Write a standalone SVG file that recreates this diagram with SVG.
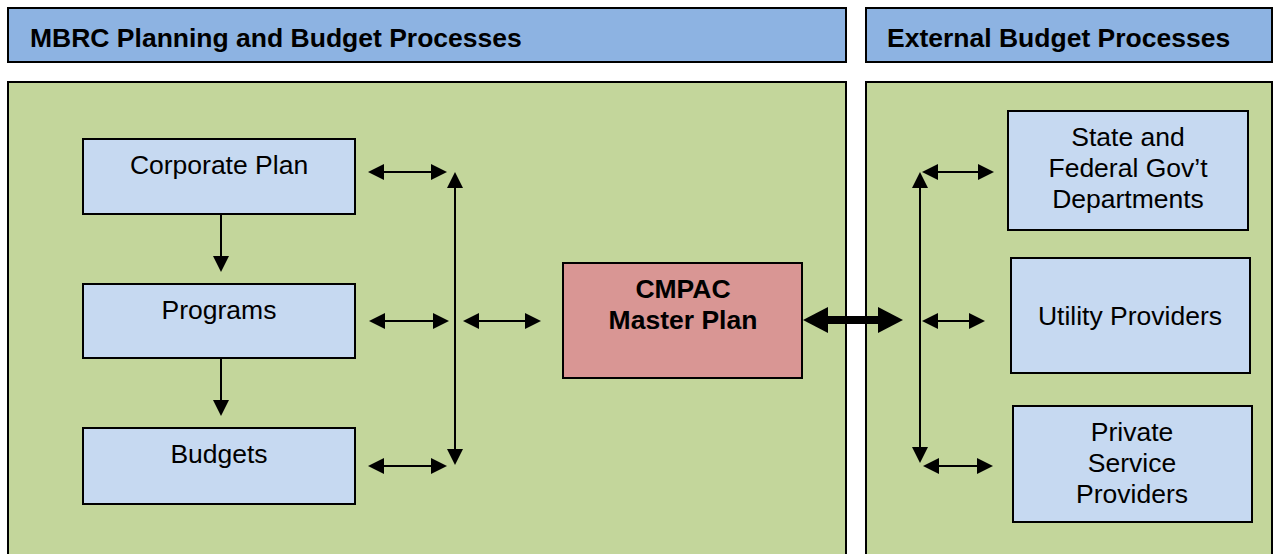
<svg xmlns="http://www.w3.org/2000/svg" width="1278" height="554" viewBox="0 0 1278 554">
  <style>
    .hdr { fill: #8db3e2; stroke: #000; stroke-width: 2; }
    .panel { fill: #c3d69b; stroke: #000; stroke-width: 2; }
    .box { fill: #c6d9f1; stroke: #000; stroke-width: 2; }
    .hub { fill: #d99694; stroke: #000; stroke-width: 2; }
    .t { font-family: "Liberation Sans", Arial, sans-serif; font-size: 26.5px; fill: #000; text-anchor: middle; }
    .b { font-weight: bold; }
    .ht { font-family: "Liberation Sans", Arial, sans-serif; font-size: 26.5px; font-weight: bold; fill: #000; }
    .ln { stroke: #000; stroke-width: 2; fill: none; }
    .thick { stroke: #000; stroke-width: 8; fill: none; }
  </style>
  <defs>
    <marker id="ah" markerUnits="userSpaceOnUse" markerWidth="16" markerHeight="16" refX="12" refY="8" orient="auto-start-reverse">
      <path d="M0,0 L16,8 L0,16 z" fill="#000"/>
    </marker>
    <marker id="ahBig" markerUnits="userSpaceOnUse" markerWidth="26" markerHeight="26" refX="17" refY="13" orient="auto-start-reverse">
      <path d="M0,0 L25,13 L0,26 z" fill="#000"/>
    </marker>
  </defs>

  <rect width="1278" height="554" fill="#fff"/>

  <!-- section headers -->
  <g id="header-mbrc">
    <rect class="hdr" x="8" y="8" width="838" height="54"/>
    <text class="ht" x="30" y="47">MBRC Planning and Budget Processes</text>
  </g>
  <g id="header-external">
    <rect class="hdr" x="866" y="8" width="406" height="54"/>
    <text class="ht" x="887" y="47">External Budget Processes</text>
  </g>

  <!-- section panels -->
  <g id="panel-mbrc">
    <rect class="panel" x="8" y="82" width="838" height="480"/>
  </g>
  <g id="panel-external">
    <rect class="panel" x="866" y="82" width="406" height="480"/>
  </g>

  <!-- connectors -->
  <g id="connectors">
    <line class="ln" x1="221" y1="214" x2="221" y2="268" marker-end="url(#ah)"/>
    <line class="ln" x1="221" y1="358" x2="221" y2="412" marker-end="url(#ah)"/>

    <line class="ln" x1="372" y1="172" x2="443" y2="172" marker-start="url(#ah)" marker-end="url(#ah)"/>
    <line class="ln" x1="373" y1="321" x2="445" y2="321" marker-start="url(#ah)" marker-end="url(#ah)"/>
    <line class="ln" x1="372" y1="466" x2="443" y2="466" marker-start="url(#ah)" marker-end="url(#ah)"/>
    <line class="ln" x1="455" y1="176" x2="455" y2="461" marker-start="url(#ah)" marker-end="url(#ah)"/>
    <line class="ln" x1="467" y1="321" x2="537" y2="321" marker-start="url(#ah)" marker-end="url(#ah)"/>

    <line class="thick" x1="811" y1="320" x2="895" y2="320" marker-start="url(#ahBig)" marker-end="url(#ahBig)"/>

    <line class="ln" x1="920" y1="176" x2="920" y2="459" marker-start="url(#ah)" marker-end="url(#ah)"/>
    <line class="ln" x1="926" y1="172" x2="990" y2="172" marker-start="url(#ah)" marker-end="url(#ah)"/>
    <line class="ln" x1="926" y1="321" x2="981" y2="321" marker-start="url(#ah)" marker-end="url(#ah)"/>
    <line class="ln" x1="927" y1="466" x2="989" y2="466" marker-start="url(#ah)" marker-end="url(#ah)"/>
  </g>

  <!-- internal planning nodes -->
  <g id="corporate-plan">
    <rect class="box" x="83" y="139" width="272" height="75"/>
    <text class="t" x="219" y="174">Corporate Plan</text>
  </g>
  <g id="programs">
    <rect class="box" x="83" y="284" width="272" height="74"/>
    <text class="t" x="219" y="319">Programs</text>
  </g>
  <g id="budgets">
    <rect class="box" x="83" y="428" width="272" height="76"/>
    <text class="t" x="219" y="463">Budgets</text>
  </g>

  <g id="cmpac">
    <rect class="hub" x="563" y="263" width="239" height="115"/>
    <text class="t b" x="683" y="298">CMPAC</text>
    <text class="t b" x="683" y="329">Master Plan</text>
  </g>

  <!-- external nodes -->
  <g id="state-federal">
    <rect class="box" x="1008" y="111" width="240" height="119"/>
    <text class="t" x="1128" y="146">State and</text>
    <text class="t" x="1128" y="177">Federal Gov’t</text>
    <text class="t" x="1128" y="208">Departments</text>
  </g>
  <g id="utility-providers">
    <rect class="box" x="1011" y="258" width="239" height="115"/>
    <text class="t" x="1130" y="325">Utility Providers</text>
  </g>
  <g id="private-providers">
    <rect class="box" x="1013" y="406" width="239" height="116"/>
    <text class="t" x="1132" y="441">Private</text>
    <text class="t" x="1132" y="472">Service</text>
    <text class="t" x="1132" y="503">Providers</text>
  </g>
</svg>
